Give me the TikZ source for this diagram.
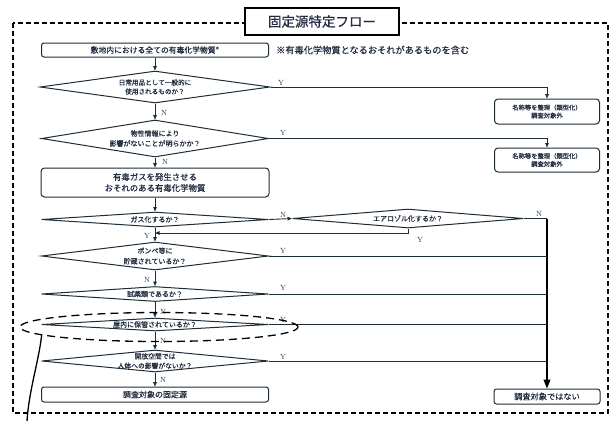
\documentclass[tikz,border=0pt]{standalone}
\usepackage{fontspec}
\newfontfamily\jp{Noto Sans CJK JP}[FakeBold=0.6]
\usetikzlibrary{shapes.geometric,arrows.meta}
\definecolor{lc}{RGB}{28,45,55}
\definecolor{tc}{RGB}{35,45,65}
\tikzset{
  dia/.style={draw=lc, diamond, inner sep=0pt, line width=1pt},
  dt/.style={text=tc, align=center, inner sep=0pt, font=\jp\fontsize{7}{10}\selectfont},
  box/.style={draw=lc, rectangle, rounded corners=2.5pt, inner sep=0pt, line width=1pt, align=center, text=tc},
  con/.style={draw=lc, line width=0.9pt},
  arr/.style={con, -{Triangle[length=4.5pt,width=3.6pt]}},
  bigarr/.style={draw=black, line width=1.1pt, -{Triangle[length=9pt,width=7pt]}},
  yn/.style={text=tc, inner sep=0pt, font=\fontsize{7.5}{8}\selectfont},
}
\begin{document}
\begin{tikzpicture}[x=1pt,y=-1pt]
\useasboundingbox (0,0) rectangle (612,421);
% outer frame
\draw[black, line width=1.2pt, dash pattern=on 5pt off 3pt] (13,23) rectangle (608,413);
\node[draw=black, line width=1.2pt, fill=white, minimum width=154, minimum height=27, inner sep=0pt,
      text=tc, font=\jp\fontsize{13.5}{14}\selectfont] (title) at (322,21.5) {固定源特定フロー};

% boxes
\node[box, minimum width=227, minimum height=14, font=\jp\fontsize{7.8}{9}\selectfont] (b1) at (155,50) {敷地内における全ての有毒化学物質*};
\node[anchor=west, text=tc, inner sep=0pt, font=\jp\fontsize{9.2}{10}\selectfont] (note) at (276,50) {※有毒化学物質となるおそれがあるものを含む};

\node[dia, minimum width=230, minimum height=32] (d1) at (155,87) {};
\node[dt, font=\jp\fontsize{6.6}{9}\selectfont] (t1) at (d1) {日常用品として一般的に\\使用されるものか？};

\node[dia, minimum width=227, minimum height=37] (d2) at (155,138.5) {};
\node[dt] (t2) at (d2) {物性情報により\\影響がないことが明らかか？};

\node[box, rounded corners=3.5pt, minimum width=228, minimum height=29, font=\jp\fontsize{8.4}{11}\selectfont] (b2) at (155,182.5) {有毒ガスを発生させる\\おそれのある有毒化学物質};

\node[dia, minimum width=227, minimum height=15] (d3) at (155,219.5) {};
\node[dt] (t3) at (d3) {ガス化するか？};

\node[dia, minimum width=231, minimum height=19] (d4) at (408,218.5) {};
\node[dt] (t4) at (d4) {エアロゾル化するか？};

\node[dia, minimum width=227, minimum height=28] (d5) at (155,256) {};
\node[dt, font=\jp\fontsize{7}{10.5}\selectfont] (t5) at (d5) {ボンベ等に\\貯蔵されているか？};

\node[dia, minimum width=227, minimum height=15] (d6) at (155,294) {};
\node[dt] (t6) at (d6) {試薬類であるか？};

\node[dia, minimum width=227, minimum height=13] (d7) at (155,324.5) {};
\node[dt] (t7) at (d7) {屋内に保管されているか？};

\node[dia, minimum width=227, minimum height=22] (d8) at (155,361) {};
\node[dt, font=\jp\fontsize{6.8}{9.5}\selectfont] (t8) at (d8) {開放空間では\\人体への影響がないか？};

\node[box, minimum width=227, minimum height=15, font=\jp\fontsize{8}{9}\selectfont] (b3) at (155,394.5) {調査対象の固定源};

% right boxes
\node[box, rounded corners=3.5pt, minimum width=105, minimum height=25, font=\jp\fontsize{6.3}{8}\selectfont] (r1) at (547,111.5) {名称等を整理（類型化）\\調査対象外};
\node[box, rounded corners=3.5pt, minimum width=105, minimum height=24, font=\jp\fontsize{6.3}{8}\selectfont] (r2) at (547,160) {名称等を整理（類型化）\\調査対象外};
\node[box, minimum width=106, minimum height=15, font=\jp\fontsize{8.2}{9}\selectfont] (r3) at (547,396.5) {調査対象ではない};

% main column
\draw[arr] (b1.south) -- (d1.north);
\draw[arr] (d1.south) -- (d2.north);
\draw[arr] (d2.south) -- (b2.north);
\draw[arr] (b2.south) -- (d3.north);
\draw[arr] (d3.south) -- (d5.north);
\draw[arr] (d5.south) -- (d6.north);
\draw[arr] (d6.south) -- (d7.north);
\draw[arr] (d7.south) -- (d8.north);
\draw[arr] (d8.south) -- (b3.north);

% right branches
\draw[arr] (d1.east) -| (r1.north);
\draw[arr] (d2.east) -| (r2.north);
\draw[arr] (d3.east) -- (d4.west);
\coordinate (k4) at (d4.east -| r3.north);
\draw[con] (d4.east) -- (k4);
\draw[bigarr] (k4) -- (r3.north);
\coordinate (j4) at (155,233);
\draw[arr] (d4.south) |- (j4);
\draw[con] (d5.east) -- (d5.east -| r3.north);
\draw[con] (d6.east) -- (d6.east -| r3.north);
\draw[con] (d7.east) -- (d7.east -| r3.north);
\draw[con] (d8.east) -- (d8.east -| r3.north);

% labels
\node[yn] (l1y) at (281,83) {Y};
\node[yn] (l1n) at (164,113) {N};
\node[yn] (l2y) at (283,133) {Y};
\node[yn] (l2n) at (165,162) {N};
\node[yn] (l3n) at (283,215) {N};
\node[yn] (l3y) at (147,236) {Y};
\node[yn] (l4n) at (539,214) {N};
\node[yn] (l4y) at (420,240) {Y};
\node[yn] (l5y) at (283,251) {Y};
\node[yn] (l5n) at (147,280) {N};
\node[yn] (l6y) at (283,288) {Y};
\node[yn] (l6n) at (163,312) {N};
\node[yn] (l7y) at (283,320) {Y};
\node[yn] (l7n) at (163,341) {N};
\node[yn] (l8y) at (283,357) {Y};
\node[yn] (l8n) at (163,380) {N};

% highlight ellipse and pointer
\node[draw=black, ellipse, line width=1.3pt, dash pattern=on 8pt off 5pt, minimum width=278, minimum height=29, inner sep=0pt] (el) at (159,327) {};
\coordinate (ptr) at (27,421);
\draw[black, line width=1.3pt] (el.184) .. controls (39,360) and (29,390) .. (ptr);
\end{tikzpicture}
\end{document}
